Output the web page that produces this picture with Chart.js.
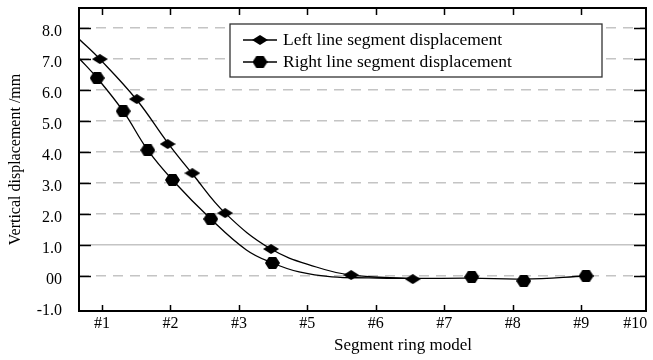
<!DOCTYPE html>
<html lang="en">
  <head>
    <meta charset="utf-8" />
    <title>Segment ring displacement</title>
    <style>
      html, body { margin: 0; padding: 0; background: #fff; }
      #wrap { width: 653px; height: 360px; }
    </style>
  </head>
  <body>
    <div id="wrap">
      <canvas id="canvas"></canvas>
    </div>

    <script src="https://cdn.jsdelivr.net/npm/chart.js"></script>

    <script>
      // x is the position along the axis, #1 = 0 ... #9 = 7
      const xTicks = [0, 1, 2, 3, 4, 5, 6, 7, 7.79];
      const xLabels = ["#1", "#2", "#3", "#5", "#6", "#7", "#8", "#9", "#10"];
      const yTicks = [-1, 0, 1, 2, 3, 4, 5, 6, 7, 8];
      const yLabels = ["-1.0", "00", "1.0", "2.0", "3.0", "4.0", "5.0", "6.0", "7.0", "8.0"];

      const seriesNames = ["Left line segment displacement", "Right line segment displacement"];

      // measured points
      const leftX = [-0.03, 0.51, 0.96, 1.32, 1.8, 2.47, 3.64, 4.54];
      const leftY = [7.0, 5.71, 4.26, 3.32, 2.03, 0.87, 0.03, -0.1];
      const rightX = [-0.07, 0.31, 0.67, 1.03, 1.59, 2.49, 5.4, 6.16, 7.07];
      const rightY = [6.39, 5.32, 4.06, 3.1, 1.84, 0.42, -0.03, -0.16, 0.0];

      // fitted curves
      const leftCurveX = [-0.335, -0.03, 0.51, 0.96, 1.32, 1.8, 2.47, 3.13, 3.64, 4.54];
      const leftCurveY = [7.65, 7.0, 5.68, 4.3, 3.3, 2.03, 0.87, 0.29, 0.03, -0.08];
      const rightCurveX = [-0.335, -0.07, 0.31, 0.67, 1.03, 1.59, 2.11, 2.49, 2.88, 3.36, 3.9, 4.54, 5.4, 6.16, 7.07];
      const rightCurveY = [7.03, 6.39, 5.32, 4.06, 3.1, 1.84, 0.84, 0.42, 0.13, -0.03, -0.06, -0.08, -0.07, -0.1, 0.0];

      const serif = "'Liberation Serif', 'Times New Roman', serif";

      function pts(xs, ys) {
        return xs.map((x, i) => ({ x, y: ys[i] }));
      }

      function marker(w, h, path) {
        const c = document.createElement("canvas");
        c.width = w;
        c.height = h;
        const g = c.getContext("2d");
        g.fillStyle = "#000";
        g.beginPath();
        path.forEach(([px, py], i) => (i ? g.lineTo(px, py) : g.moveTo(px, py)));
        g.closePath();
        g.fill();
        return c;
      }

      const diamond = marker(16, 10, [[0, 5], [8, 0], [16, 5], [8, 10]]);
      const hexagon = marker(15, 12, [[0, 6], [3.8, 0], [11.2, 0], [15, 6], [11.2, 12], [3.8, 12]]);

      const frame = {
        id: "frame",
        afterDatasetsDraw(chart) {
          const { ctx, chartArea: a, scales } = chart;
          ctx.save();
          ctx.strokeStyle = "#000";
          ctx.lineWidth = 2;
          ctx.strokeRect(a.left, a.top, a.right - a.left, a.bottom - a.top);

          ctx.lineWidth = 1.5;
          ctx.beginPath();
          xTicks.slice(0, -1).forEach((v) => {
            const px = Math.round(scales.x.getPixelForValue(v)) + 0.5;
            ctx.moveTo(px, a.bottom);
            ctx.lineTo(px, a.bottom - 6);
            ctx.moveTo(px, a.top);
            ctx.lineTo(px, a.top + 7);
          });
          yTicks.slice(1).forEach((v) => {
            const py = Math.round(scales.y.getPixelForValue(v)) + 0.5;
            ctx.moveTo(a.left, py);
            ctx.lineTo(a.left + 12, py);
            ctx.moveTo(a.right, py);
            ctx.lineTo(a.right - 12, py);
          });
          ctx.stroke();

          // legend box
          const bx = a.left + 151, by = a.top + 16, bw = 372, bh = 53;
          ctx.fillStyle = "#fff";
          ctx.fillRect(bx, by, bw, bh);
          ctx.strokeStyle = "#333";
          ctx.lineWidth = 1.3;
          ctx.strokeRect(bx, by, bw, bh);
          const icons = [diamond, hexagon];
          ctx.font = "17.5px " + serif;
          ctx.textBaseline = "middle";
          ctx.textAlign = "left";
          ctx.fillStyle = "#000";
          seriesNames.forEach((name, i) => {
            const cy = by + 16 + i * 22;
            ctx.strokeStyle = "#000";
            ctx.lineWidth = 1.3;
            ctx.beginPath();
            ctx.moveTo(bx + 13, cy);
            ctx.lineTo(bx + 47, cy);
            ctx.stroke();
            const ic = icons[i];
            ctx.drawImage(ic, bx + 30 - ic.width / 2, cy - ic.height / 2);
            ctx.fillText(name, bx + 53, cy);
          });

          // x axis title
          ctx.font = "17px " + serif;
          ctx.textAlign = "center";
          ctx.textBaseline = "alphabetic";
          ctx.fillText("Segment ring model", a.left + 324, a.bottom + 39);
          ctx.restore();
        },
      };

      const ctx = document.getElementById("canvas");

      new Chart(ctx, {
        type: "scatter",
        data: {
          datasets: [
            {
              label: seriesNames[0] + " fit",
              data: pts(leftCurveX, leftCurveY),
              showLine: true,
              borderColor: "#000",
              borderWidth: 1.3,
              pointRadius: 0,
              tension: 0.4,
            },
            {
              label: seriesNames[1] + " fit",
              data: pts(rightCurveX, rightCurveY),
              showLine: true,
              borderColor: "#000",
              borderWidth: 1.3,
              pointRadius: 0,
              tension: 0.4,
            },
            {
              label: seriesNames[0],
              data: pts(leftX, leftY),
              showLine: false,
              pointStyle: diamond,
              pointRadius: 6,
            },
            {
              label: seriesNames[1],
              data: pts(rightX, rightY),
              showLine: false,
              pointStyle: hexagon,
              pointRadius: 6,
            },
          ],
        },
        plugins: [frame],
        options: {
          responsive: true,
          maintainAspectRatio: false,
          animation: false,
          events: [],
          layout: { padding: { top: 8, right: 5, left: 0, bottom: 0 } },
          plugins: {
            legend: { display: false },
            tooltip: { enabled: false },
          },
          scales: {
            x: {
              type: "linear",
              min: -0.335,
              max: 7.946,
              afterBuildTicks: (s) => {
                s.ticks = xTicks.map((v) => ({ value: v }));
              },
              afterFit: (s) => {
                s.height = 49;
                s.paddingLeft = 0;
                s.paddingRight = 0;
              },
              grid: { display: false, drawTicks: false },
              border: { display: false },
              ticks: {
                padding: 3,
                maxRotation: 0,
                autoSkip: false,
                color: "#000",
                font: { family: serif, size: 16 },
                callback: (v, i) => xLabels[i],
              },
            },
            y: {
              min: -1.13,
              max: 8.65,
              afterBuildTicks: (s) => {
                s.ticks = yTicks.map((v) => ({ value: v }));
              },
              afterFit: (s) => {
                s.width = 79;
                s.paddingTop = 0;
                s.paddingBottom = 0;
              },
              grid: {
                drawTicks: false,
                lineWidth: 1.5,
                color: (c) => (c.tick && c.tick.value === -1 ? "rgba(0,0,0,0)" : "#c4c4c4"),
              },
              border: {
                display: false,
                dash: (c) => (c.tick && c.tick.value === 1 ? [] : [10, 7]),
              },
              ticks: {
                padding: 17,
                labelOffset: 4,
                autoSkip: false,
                color: "#000",
                font: { family: serif, size: 16 },
                callback: (v, i) => yLabels[i],
              },
              title: {
                display: true,
                text: "Vertical displacement /mm",
                color: "#000",
                font: { family: serif, size: 16 },
                padding: { top: 6, bottom: 0 },
              },
            },
          },
        },
      });
    </script>
  </body>
</html>
